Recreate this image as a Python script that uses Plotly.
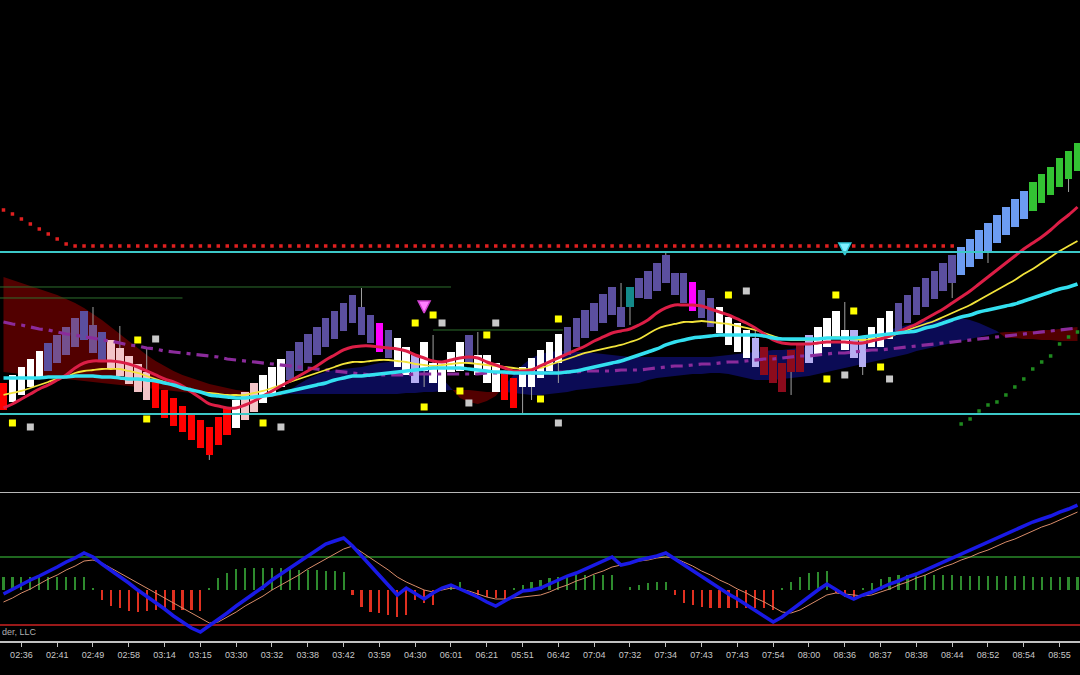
import plotly.graph_objects as go

# ---------------- DATA ----------------
N = 121
bars = list(range(N))

tick_pos = list(range(2, 119, 4))
tick_labels = ["02:36", "02:41", "02:49", "02:58", "03:14", "03:15", "03:30", "03:32",
               "03:38", "03:42", "03:59", "04:30", "06:01", "06:21", "05:51", "06:42",
               "07:04", "07:32", "07:34", "07:43", "07:43", "07:54", "08:00", "08:36",
               "08:37", "08:38", "08:44", "08:52", "08:54", "08:55"]

opens = [117, 98, 105, 113, 121, 129, 137, 145, 153, 160,
         175, 168, 160, 152, 144, 136, 128, 119, 110, 102,
         94, 86, 80, 73, 55, 65, 72, 80, 88, 97,
         105, 113, 120, 129, 137, 145, 153, 161, 169, 177,
         193, 185, 177, 170, 162, 153, 145, 129, 137, 137,
         128, 129, 137, 145, 145, 137, 127, 122, 113, 113,
         122, 129, 137, 145, 153, 162, 169, 177, 185, 193,
         193, 202, 201, 209, 217, 227, 227, 218, 210, 202,
         193, 183, 177, 170, 162, 153, 145, 137, 128, 128,
         137, 145, 153, 161, 170, 170, 162, 153, 153, 161,
         169, 177, 185, 193, 201, 209, 217, 225, 233, 241,
         249, 257, 265, 273, 281, 289, 297, 305, 313, 321,
         329]
closes = [90, 125, 133, 141, 149, 157, 165, 173, 182, 189,
          147, 140, 132, 124, 116, 108, 100, 92, 82, 74,
          68, 60, 52, 45, 83, 93, 100, 108, 117, 125,
          133, 141, 149, 158, 166, 173, 182, 189, 197, 205,
          165, 157, 148, 142, 133, 125, 117, 158, 117, 108,
          148, 158, 165, 125, 117, 108, 100, 92, 133, 142,
          150, 158, 166, 173, 182, 190, 197, 206, 213, 173,
          213, 222, 229, 237, 245, 205, 197, 189, 182, 173,
          167, 155, 148, 142, 133, 125, 117, 108, 150, 157,
          165, 173, 182, 189, 150, 142, 133, 173, 182, 189,
          197, 205, 213, 222, 229, 237, 245, 253, 261, 270,
          277, 285, 293, 301, 309, 318, 326, 333, 342, 349,
          357]
wick_high = {10: 193, 13: 174, 16: 152, 40: 212, 48: 165, 53: 168,
             69: 217, 74: 248, 84: 172, 94: 198}
wick_low = {23: 40, 47: 113, 58: 85, 59: 100, 62: 117, 70: 175, 88: 105,
            96: 125, 106: 202, 110: 237, 119: 308}

# bar state runs (state code, number of bars)
state_runs = [("R", 1), ("W", 4), ("S", 1), ("X", 3), ("S", 1), ("X", 1), ("S", 1),
              ("P", 5), ("R", 9), ("W", 1), ("P", 2), ("W", 3), ("S", 10), ("M", 1),
              ("S", 1), ("W", 2), ("L", 1), ("W", 5), ("S", 1), ("W", 3), ("R", 2),
              ("W", 5), ("S", 7), ("T", 1), ("S", 6), ("M", 1), ("S", 2), ("W", 4),
              ("L", 1), ("D", 5), ("L", 1), ("W", 4), ("L", 2), ("W", 3), ("S", 7),
              ("B", 8), ("G", 6)]

ma_red = [92, 96, 101, 106, 111, 115, 120, 125, 132, 137,
          139, 139, 139, 138, 136, 133, 129, 125, 121, 118,
          114, 108, 102, 96, 94, 92, 92, 95, 99, 104,
          109, 114, 119, 124, 129, 134, 140, 145, 150, 153,
          154, 154, 153, 152, 151, 149, 145, 142, 139, 138,
          140, 142, 143, 142, 138, 135, 132, 129, 129, 130,
          134, 138, 142, 146, 150, 154, 159, 163, 167, 169,
          171, 175, 180, 187, 192, 195, 195, 195, 194, 191,
          188, 185, 181, 177, 172, 166, 160, 157, 156, 156,
          156, 157, 158, 158, 158, 157, 157, 159, 161, 164,
          168, 172, 176, 181, 186, 191, 197, 203, 209, 216,
          223, 230, 237, 244, 251, 257, 263, 270, 278, 285,
          293]
ma_yellow = [105, 107, 109, 112, 115, 118, 121, 123, 127, 129,
             130, 131, 131, 131, 129, 127, 124, 121, 118, 115,
             113, 110, 108, 107, 106, 105, 105, 105, 107, 109,
             112, 115, 118, 121, 124, 127, 130, 133, 136, 138,
             138, 139, 140, 140, 139, 138, 136, 135, 134, 135,
             136, 137, 137, 136, 135, 134, 133, 132, 131, 131,
             132, 135, 138, 141, 144, 147, 149, 151, 153, 155,
             158, 161, 166, 171, 174, 176, 178, 178, 179, 178,
             177, 176, 174, 172, 170, 167, 164, 161, 160, 160,
             160, 161, 162, 163, 162, 161, 160, 161, 162, 163,
             167, 170, 173, 176, 179, 183, 187, 191, 195, 200,
             205, 210, 215, 220, 226, 231, 237, 243, 249, 254,
             259]
ma_cyan = [122, 122, 122, 122, 122, 123, 123, 123, 124, 124,
           124, 123, 123, 122, 121, 121, 120, 119, 117, 115,
           112, 110, 108, 105, 104, 103, 102, 102, 103, 104,
           105, 107, 109, 111, 113, 115, 117, 120, 122, 124,
           124, 125, 126, 127, 128, 129, 130, 131, 132, 132,
           132, 132, 131, 130, 129, 128, 128, 127, 127, 127,
           127, 127, 127, 128, 129, 131, 133, 135, 137, 139,
           142, 145, 148, 151, 155, 158, 160, 162, 163, 164,
           165, 165, 165, 165, 165, 164, 162, 161, 161, 161,
           161, 161, 162, 162, 162, 162, 163, 164, 165, 166,
           167, 168, 169, 172, 174, 177, 180, 183, 185, 188,
           190, 192, 194, 196, 199, 202, 205, 208, 211, 213,
           216]
ma_purple = [178, 176, 175, 173, 171, 170, 168, 166, 165, 163,
             162, 160, 159, 157, 155, 154, 152, 151, 149, 148,
             147, 146, 145, 144, 143, 141, 140, 139, 138, 137,
             136, 135, 134, 133, 132, 131, 130, 129, 128, 127,
             126, 125, 125, 125, 125, 125, 126, 126, 126, 126,
             126, 126, 126, 126, 127, 127, 127, 127, 127, 127,
             127, 127, 128, 128, 128, 129, 129, 129, 129, 130,
             130, 130, 131, 132, 133, 134, 134, 135, 136, 136,
             137, 138, 138, 139, 140, 141, 141, 142, 143, 144,
             144, 145, 146, 147, 147, 148, 149, 150, 150, 151,
             152, 153, 154, 155, 156, 157, 158, 159, 160, 161,
             162, 163, 164, 165, 166, 167, 168, 169, 170, 171,
             172]

span_a = [128, 127, 126, 125, 124, 123, 122, 121, 120, 119,
          118, 117, 116, 115, 114, 113, 112, 111, 110, 109,
          108, 107, 106, 105, 104, 103, 102, 102, 102, 102,
          103, 104, 110, 116, 121, 125, 128, 130, 131, 132,
          133, 135, 137, 138, 139, 140, 140, 138, 132, 122,
          112, 102, 98, 96, 99, 104, 115, 125, 135, 142,
          146, 148, 149, 149, 148, 148, 147, 146, 145, 144,
          143, 143, 143, 143, 143, 143, 143, 143, 143, 143,
          144, 145, 146, 147, 148, 149, 150, 150, 151, 152,
          153, 154, 156, 158, 160, 162, 164, 166, 168, 170,
          173, 175, 177, 179, 180, 181, 182, 182, 180, 177,
          173, 169, 162, 162, 161, 161, 160, 160, 159, 159,
          159]
span_b = [223, 220, 217, 214, 211, 208, 205, 201, 197, 192,
          186, 180, 173, 166, 159, 152, 145, 139, 134, 129,
          125, 122, 119, 116, 114, 112, 110, 109, 108, 107,
          106, 105, 106, 106, 106, 106, 106, 106, 106, 106,
          106, 106, 106, 106, 106, 107, 107, 108, 108, 109,
          110, 110, 110, 109, 108, 108, 108, 107, 106, 105,
          105, 106, 107, 108, 110, 111, 112, 113, 114, 115,
          116, 117, 120, 122, 123, 124, 125, 126, 126, 127,
          127, 126, 124, 122, 120, 120, 120, 121, 122, 123,
          124, 126, 128, 130, 132, 134, 136, 138, 140, 142,
          144, 146, 149, 151, 153, 155, 157, 159, 161, 163,
          165, 167, 168, 168, 169, 169, 170, 170, 171, 172,
          173]

stop_red = [290, 286, 281, 276, 271, 266, 261, 256] + [254] * 99 + [None] * 14
stop_green = [None] * 107 + [76, 81, 89, 95, 98, 105, 113, 121, 131, 138, 144, 156, 163, 168]

resistance = 248
support = 86
green_levels = [(213, -0.4, 50.0), (202, -0.4, 20.0), (170, 48.0, 62.5)]

yellow_sig_x = [1, 15, 16, 29, 46, 48, 47, 54, 51, 62, 60, 81, 93, 95, 98, 92]
yellow_sig_y = [77, 160, 81, 77, 177, 185, 93, 165, 109, 181, 101, 205, 205, 189, 133, 121]
gray_sig_x = [3, 17, 31, 49, 55, 52, 62, 83, 99, 94]
gray_sig_y = [73, 161, 73, 177, 177, 97, 77, 209, 121, 125]
arrow_sell = (47, 187)
arrow_buy = (94, 245)

# lower pane
osc_fast = [-4, 1, 5, 10, 14, 19, 23, 28, 32, 37,
            33, 26, 20, 13, 7, 0, -6, -13, -19, -26,
            -32, -38, -42, -36, -29, -23, -16, -10, -3, 3,
            10, 16, 23, 29, 35, 41, 46, 49, 52, 44,
            34, 24, 14, 4, -5, 2, -3, -9, -3, 2,
            5, 1, -3, -7, -12, -16, -11, -6, -1, 0,
            2, 6, 10, 14, 17, 21, 25, 29, 33, 25,
            27, 30, 32, 34, 37, 31, 25, 19, 13, 7,
            1, -4, -9, -15, -20, -26, -32, -27, -20, -13,
            -6, 0, 6, 0, -5, -9, -5, -2, 2, 6,
            9, 13, 16, 20, 24, 28, 32, 36, 40, 44,
            48, 52, 56, 60, 64, 68, 71, 74, 78, 81,
            85]
osc_slow = [-12, -8, -3, 1, 6, 11, 15, 20, 24, 29,
            30, 27, 22, 17, 12, 7, 2, -3, -8, -13,
            -18, -23, -28, -33, -32, -27, -22, -16, -11, -6,
            0, 5, 10, 15, 21, 26, 31, 36, 41, 44,
            38, 32, 26, 20, 13, 8, 4, 0, -2, 0,
            2, 1, -1, -4, -7, -9, -9, -8, -7, -6,
            -5, -2, 2, 5, 9, 12, 16, 19, 23, 25,
            27, 29, 30, 32, 33, 32, 28, 24, 19, 15,
            10, 6, 1, -3, -8, -12, -17, -22, -23, -20,
            -15, -10, -5, -3, -4, -5, -6, -5, -2, 1,
            5, 8, 12, 15, 19, 23, 26, 30, 33, 37,
            40, 44, 48, 51, 55, 59, 63, 66, 70, 74,
            78]
osc_hist = [13, 13, 13, 13, 13, 13, 13, 13, 13, 13,
            2, -10, -16, -18, -21, -22, -21, -20, -20, -20,
            -20, -20, -21, 1, 12, 17, 21, 22, 22, 22,
            22, 22, 21, 20, 20, 20, 19, 19, 18, -5,
            -17, -22, -23, -25, -27, -25, -10, -13, -15, 0,
            5, 8, 0, -5, -7, -8, -12, 1, 5, 8,
            10, 12, 13, 13, 15, 15, 15, 15, 15, 0,
            3, 5, 7, 8, 8, -5, -13, -15, -17, -18,
            -18, -18, -18, -18, -18, -18, -20, 1, 8, 13,
            17, 18, 19, -3, -7, -8, 2, 7, 11, 13,
            15, 15, 15, 15, 15, 15, 15, 14, 14, 14,
            14, 14, 14, 14, 14, 13, 13, 13, 13, 13,
            13]
osc_upper = 33
osc_lower = -35
osc_top = 98

copyright_text = "der, LLC"

# ---------------- STYLE ----------------
palette = {"W": "#ffffff", "S": "#5b4f9f", "X": "#74508e", "P": "#f3c4c8", "R": "#ff0000",
           "M": "#ff00ff", "L": "#b6aef2", "T": "#138a8a", "D": "#8c0b1c", "B": "#6c9cf2",
           "G": "#33c233"}
states = []
for code, n in state_runs:
    states += [code] * n
bar_colors = [palette[s] for s in states]

fig = go.Figure()
shapes = []


# cloud (drawn as shapes beneath all traces)
def cloud_segments(a, b):
    segs = []
    bull = a[0] >= b[0]
    xs, av, bv = [0], [a[0]], [b[0]]
    for i in range(1, len(a)):
        s = a[i] >= b[i]
        if s != bull:
            d0 = a[i - 1] - b[i - 1]
            d1 = a[i] - b[i]
            t = d0 / (d0 - d1) if d0 != d1 else 0.5
            xc = i - 1 + t
            yc = a[i - 1] + t * (a[i] - a[i - 1])
            xs.append(xc); av.append(yc); bv.append(yc)
            segs.append((bull, xs, av, bv))
            xs, av, bv, bull = [xc], [yc], [yc], s
        xs.append(i); av.append(a[i]); bv.append(b[i])
    segs.append((bull, xs, av, bv))
    return segs


for bull, xs, av, bv in cloud_segments(span_a, span_b):
    px = xs + xs[::-1]
    py = av + bv[::-1]
    path = "M " + " L ".join(f"{x:.3f},{y:.3f}" for x, y in zip(px, py)) + " Z"
    shapes.append(dict(type="path", path=path, xref="x", yref="y",
                       fillcolor="#0b0b55" if bull else "#520000",
                       line=dict(width=0), layer="below"))

# candle bodies
fig.add_trace(go.Bar(x=bars, y=[c - o for o, c in zip(opens, closes)], base=opens,
                     marker=dict(color=bar_colors, line=dict(width=0)), width=0.84,
                     showlegend=False, xaxis="x", yaxis="y"))

# wicks (only the parts outside the bodies)
wx, wy = [], []
for i, hv in wick_high.items():
    wx += [i, i, None]
    wy += [max(opens[i], closes[i]), hv, None]
for i, lv in wick_low.items():
    wx += [i, i, None]
    wy += [min(opens[i], closes[i]), lv, None]
fig.add_trace(go.Scatter(x=wx, y=wy, mode="lines", line=dict(color="#a0a0a0", width=1),
                         hoverinfo="skip", showlegend=False, xaxis="x", yaxis="y"))

# purple dash-dot
fig.add_trace(go.Scatter(x=bars, y=ma_purple, mode="lines",
                         line=dict(color="#8b2b9b", width=3.2, dash="12px,6px,4px,6px"),
                         showlegend=False, xaxis="x", yaxis="y"))
# moving averages
fig.add_trace(go.Scatter(x=bars, y=ma_yellow, mode="lines",
                         line=dict(color="#f2e33a", width=1.8, shape="spline"),
                         showlegend=False, xaxis="x", yaxis="y"))
fig.add_trace(go.Scatter(x=bars, y=ma_red, mode="lines",
                         line=dict(color="#dc1e46", width=3, shape="spline"),
                         showlegend=False, xaxis="x", yaxis="y"))
fig.add_trace(go.Scatter(x=bars, y=ma_cyan, mode="lines",
                         line=dict(color="#33e0f0", width=3.5, shape="spline"),
                         showlegend=False, xaxis="x", yaxis="y"))

# trailing stops
fig.add_trace(go.Scatter(x=bars, y=stop_red, mode="markers",
                         marker=dict(color="#e02020", size=3.5, symbol="square"),
                         showlegend=False, xaxis="x", yaxis="y"))
fig.add_trace(go.Scatter(x=bars, y=stop_green, mode="markers",
                         marker=dict(color="#1f8a1f", size=3.5, symbol="square"),
                         showlegend=False, xaxis="x", yaxis="y"))

# signal squares
fig.add_trace(go.Scatter(x=yellow_sig_x, y=yellow_sig_y, mode="markers",
                         marker=dict(color="#ffff00", size=7, symbol="square"),
                         showlegend=False, xaxis="x", yaxis="y"))
fig.add_trace(go.Scatter(x=gray_sig_x, y=gray_sig_y, mode="markers",
                         marker=dict(color="#c8c8c8", size=7, symbol="square"),
                         showlegend=False, xaxis="x", yaxis="y"))
# arrows
fig.add_trace(go.Scatter(x=[arrow_sell[0]], y=[arrow_sell[1]], mode="markers",
                         marker=dict(color="#ff80ff", size=12, symbol="arrow-down",
                                     line=dict(color="#d040d0", width=1.5)),
                         showlegend=False, xaxis="x", yaxis="y"))
fig.add_trace(go.Scatter(x=[arrow_buy[0]], y=[arrow_buy[1]], mode="markers",
                         marker=dict(color="#80f0ff", size=12, symbol="arrow-down",
                                     line=dict(color="#30c8d8", width=1.5)),
                         showlegend=False, xaxis="x", yaxis="y"))

# lower pane
fig.add_trace(go.Bar(x=bars, y=osc_hist, width=0.24,
                     marker=dict(color=["#2e8b2e" if v >= 0 else "#e03020" for v in osc_hist],
                                 line=dict(width=0)),
                     showlegend=False, xaxis="x", yaxis="y2"))
fig.add_trace(go.Scatter(x=bars, y=osc_slow, mode="lines",
                         line=dict(color="#d98c6a", width=1),
                         showlegend=False, xaxis="x", yaxis="y2"))
fig.add_trace(go.Scatter(x=bars, y=osc_fast, mode="lines",
                         line=dict(color="#1a1ae6", width=3.5),
                         showlegend=False, xaxis="x", yaxis="y2"))

for lvl in (resistance, support):
    shapes.append(dict(type="line", xref="paper", x0=0, x1=1, yref="y", y0=lvl, y1=lvl,
                       line=dict(color="#3cc8c8", width=2), layer="above"))
for lvl, xs0, xs1 in green_levels:
    shapes.append(dict(type="line", xref="x", x0=xs0, x1=xs1, yref="y", y0=lvl, y1=lvl,
                       line=dict(color="#2d6e2d", width=1), layer="below"))
shapes.append(dict(type="line", xref="paper", x0=0, x1=1, yref="y2", y0=osc_upper, y1=osc_upper,
                   line=dict(color="#2a8a2a", width=1.5), layer="below"))
shapes.append(dict(type="line", xref="paper", x0=0, x1=1, yref="y2", y0=osc_lower, y1=osc_lower,
                   line=dict(color="#cc2222", width=1.5), layer="below"))
shapes.append(dict(type="line", xref="paper", x0=0, x1=1, yref="y2", y0=osc_top, y1=osc_top,
                   line=dict(color="#b8b8b8", width=2), layer="above"))

fig.update_layout(
    width=1080, height=675,
    margin=dict(l=0, r=0, t=0, b=34),
    paper_bgcolor="#000000", plot_bgcolor="#000000",
    barmode="overlay", bargap=0, showlegend=False,
    shapes=shapes,
    xaxis=dict(range=[-0.39, 120.28], anchor="y2", showgrid=False, zeroline=False,
               showline=True, linecolor="#c0c0c0", linewidth=1.5,
               ticks="outside", ticklen=4, tickcolor="#c0c0c0",
               tickvals=tick_pos, ticktext=tick_labels,
               tickfont=dict(family="Liberation Sans, Arial", size=9, color="#c8c8c8")),
    yaxis=dict(domain=[0.2356, 1], range=[10, 500], visible=False, fixedrange=True),
    yaxis2=dict(domain=[0, 0.2324], range=[-51, 98], visible=False, fixedrange=True),
    annotations=[dict(text=copyright_text, xref="paper", yref="paper", x=0, y=0.003,
                      xanchor="left", yanchor="bottom", showarrow=False,
                      font=dict(family="Liberation Sans, Arial", size=9, color="#b0b0b0"))],
)

fig.write_html("out.html", config={"displayModeBar": False},
               post_script="document.body.style.margin='0';document.body.style.background='#000';")
